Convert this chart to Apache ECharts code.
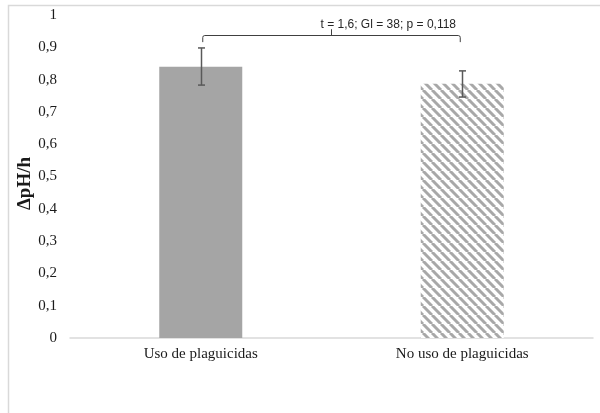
<!DOCTYPE html>
<html>
<head>
<meta charset="utf-8">
<script src="https://cdn.jsdelivr.net/npm/echarts@6/dist/echarts.min.js"></script>
<style>
html,body{margin:0;padding:0;background:#fff;}
#c{width:600px;height:413px;}
</style>
</head>
<body>
<div id="c"></div>
<script>
// ---- data ----
var categories = ['Uso de plaguicidas', 'No uso de plaguicidas'];
var means = [0.84, 0.787];
var errUp = [0.058, 0.04];
var errDown = [0.057, 0.041];
var yTicks = [0, 0.1, 0.2, 0.3, 0.4, 0.5, 0.6, 0.7, 0.8, 0.9, 1];
var statText = 't = 1,6; Gl = 38; p = 0,118';
var bracketLevels = { ends: 0.916, line: 0.938, tick: 0.956 };

// ---- stripe pattern ----
function makeStripes() {
  var s = 9;
  var cv = document.createElement('canvas');
  cv.width = s; cv.height = s;
  var ctx = cv.getContext('2d');
  ctx.fillStyle = '#ffffff';
  ctx.fillRect(0, 0, s, s);
  ctx.strokeStyle = '#a8a8a8';
  ctx.lineWidth = 3;
  for (var k = -1; k <= 1; k++) {
    ctx.beginPath();
    ctx.moveTo(k * s, 0);
    ctx.lineTo(k * s + s, s);
    ctx.stroke();
  }
  return cv;
}
var stripe = { image: makeStripes(), repeat: 'repeat' };

var barData = means.map(function (v, i) {
  return i === 0 ? { value: v, itemStyle: { color: '#a5a5a5' } }
                 : { value: v, itemStyle: { color: stripe } };
});
var errData = means.map(function (v, i) { return [i, v - errDown[i], v + errUp[i]]; });

var chart = echarts.init(document.getElementById('c'));
chart.setOption({
  animation: false,
  backgroundColor: '#ffffff',
  graphic: [{
    type: 'rect', silent: true, z: -1,
    shape: { x: 8.5, y: 5.5, width: 700, height: 500 },
    style: { fill: 'none', stroke: '#d9d9d9', lineWidth: 1.5 }
  }],
  grid: { left: 70, right: 7, top: 15, bottom: 75 },
  xAxis: {
    type: 'category',
    data: categories,
    axisLine: { lineStyle: { color: '#d9d9d9', width: 1.5 } },
    axisTick: { show: false },
    axisLabel: { fontFamily: 'Liberation Serif', fontSize: 15, color: '#1a1a1a', margin: 9 }
  },
  yAxis: {
    type: 'value',
    min: yTicks[0], max: yTicks[yTicks.length - 1], interval: 0.1,
    splitLine: { show: false },
    axisLine: { show: false },
    axisTick: { show: false },
    axisLabel: {
      fontFamily: 'Liberation Serif', fontSize: 15, color: '#1a1a1a', margin: 13,
      formatter: function (v) { return String(Math.round(v * 10) / 10).replace('.', ','); }
    },
    name: 'ΔpH/h',
    nameLocation: 'middle',
    nameGap: 35,
    nameMoveOverlap: false,
    nameTextStyle: { fontFamily: 'Liberation Serif', fontSize: 19, fontWeight: 'bold', color: '#1a1a1a', padding: [0, 14, 0, 0] }
  },
  series: [
    {
      type: 'bar',
      data: barData,
      barWidth: 83
    },
    {
      type: 'custom',
      data: errData,
      z: 5,
      renderItem: function (params, api) {
        var top = api.coord([api.value(0), api.value(2)]);
        var bot = api.coord([api.value(0), api.value(1)]);
        var x = Math.round(top[0]) + 0.5;
        var w = 3.5;
        var st = { stroke: '#595959', lineWidth: 1.5 };
        return { type: 'group', children: [
          { type: 'line', shape: { x1: x, y1: top[1], x2: x, y2: bot[1] }, style: st },
          { type: 'line', shape: { x1: x - w, y1: top[1], x2: x + w, y2: top[1] }, style: st },
          { type: 'line', shape: { x1: x - w, y1: bot[1], x2: x + w, y2: bot[1] }, style: st }
        ]};
      }
    },
    {
      type: 'custom',
      data: [[0, 1]],
      z: 5,
      renderItem: function (params, api) {
        var l = api.coord([0, bracketLevels.ends]);
        var lt = api.coord([0, bracketLevels.line]);
        var r = api.coord([1, bracketLevels.ends]);
        var rt = api.coord([1, bracketLevels.line]);
        var mx = (lt[0] + rt[0]) / 2;
        var tk = api.coord([0, bracketLevels.tick]);
        var st = { stroke: '#404040', lineWidth: 1, fill: 'none' };
        var x1 = l[0] + 2, x2 = r[0] - 2, y = Math.round(lt[1]) + 0.5;
        return { type: 'group', children: [
          { type: 'path', shape: { pathData:
            'M' + x1 + ' ' + l[1] + ' L' + x1 + ' ' + (y + 2) + ' Q' + x1 + ' ' + y + ' ' + (x1 + 2) + ' ' + y +
            ' L' + (x2 - 2) + ' ' + y + ' Q' + x2 + ' ' + y + ' ' + x2 + ' ' + (y + 2) + ' L' + x2 + ' ' + r[1] }, style: st },
          { type: 'line', shape: { x1: mx, y1: y, x2: mx, y2: tk[1] }, style: st },
          { type: 'text', style: { x: mx - 11, y: tk[1] - 5, text: statText, textAlign: 'left', textVerticalAlign: 'middle',
            fontFamily: 'Liberation Sans Narrow, Liberation Sans', fontSize: 12, fill: '#262626' } }
        ]};
      }
    }
  ]
});
</script>
</body>
</html>
